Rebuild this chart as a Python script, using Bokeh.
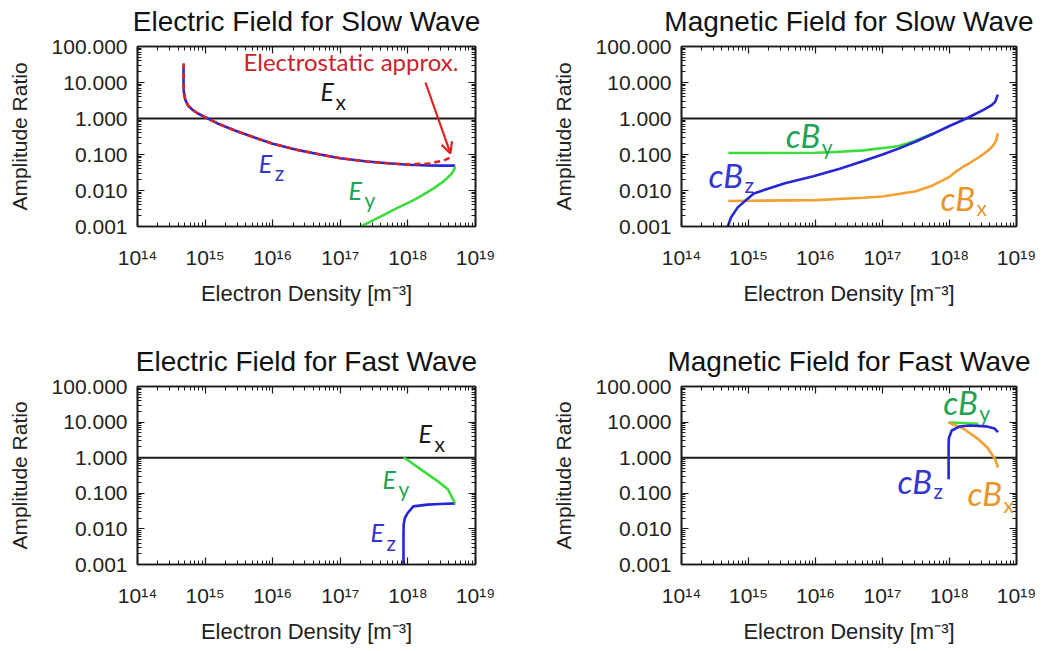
from bokeh.plotting import figure
from bokeh.models import (FixedTicker, LogAxis, CustomJSTickFormatter, Label, Arrow,
                          OpenHead, Range1d)
from bokeh.layouts import column, row
from bokeh.embed import file_html
from bokeh.resources import INLINE

# ---------------- data ----------------
x_ticks = [1e14, 1e15, 1e16, 1e17, 1e18, 1e19]
x_tick_labels = ["10¹⁴", "10¹⁵", "10¹⁶", "10¹⁷", "10¹⁸", "10¹⁹"]
y_ticks = [0.001, 0.01, 0.1, 1.0, 10.0, 100.0]
y_tick_labels = ["0.001", "0.010", "0.100", "1.000", "10.000", "100.000"]

titles = ["Electric Field for Slow Wave", "Magnetic Field for Slow Wave",
          "Electric Field for Fast Wave", "Magnetic Field for Fast Wave"]
x_label = "Electron Density [m⁻³]"
y_label = "Amplitude Ratio"

# reference (Ex = 1)
ex_n = [1e14, 1e19]
ex_amp = [1.0, 1.0]

# Electric field, slow wave
slow_ez_n = [4.8e14, 4.8e14, 4.85e14, 5.1e14, 5.6e14, 6.5e14, 7.7e14, 1.1e15, 1.6e15, 2.7e15,
             5.0e15, 1.0e16, 2.5e16, 5.0e16, 1.0e17, 2.5e17, 5.0e17, 1.0e18, 2.0e18, 3.5e18, 5.0e18]
slow_ez = [30, 10, 5.3, 3.3, 2.3, 1.75, 1.4, 1.0, 0.7, 0.47,
           0.31, 0.20, 0.13, 0.10, 0.079, 0.064, 0.057, 0.052, 0.050, 0.049, 0.049]
slow_es_n = [4.8e14, 4.8e14, 4.85e14, 5.1e14, 5.6e14, 6.5e14, 7.7e14, 1.1e15, 1.6e15, 2.7e15,
             5.0e15, 1.0e16, 2.5e16, 5.0e16, 1.0e17, 2.5e17, 5.0e17, 1.0e18, 2.0e18, 3.4e18, 4.7e18]
slow_es = [34, 10, 5.3, 3.3, 2.3, 1.75, 1.4, 1.0, 0.7, 0.47,
           0.31, 0.20, 0.13, 0.10, 0.079, 0.064, 0.057, 0.053, 0.056, 0.068, 0.09]
slow_ey_n = [2.0e17, 3.0e17, 4.4e17, 7.0e17, 1.1e18, 1.6e18, 2.4e18, 3.1e18, 3.8e18, 4.4e18, 4.8e18, 5.0e18]
slow_ey = [0.001, 0.00145, 0.0021, 0.0033, 0.0049, 0.0072, 0.0115, 0.016, 0.022, 0.029, 0.037, 0.047]

# Magnetic field, slow wave
slow_by_n = [5.0e14, 1.0e15, 1.0e16, 1.7e16, 5.2e16, 1.7e17, 2.9e17, 5.8e17]
slow_by = [0.11, 0.11, 0.112, 0.115, 0.13, 0.17, 0.23, 0.39]
slow_bx_n = [5.0e14, 1.0e15, 1.0e16, 5.2e16, 1.0e17, 3.16e17, 5.6e17, 1.0e18, 1.26e18, 1.58e18,
             2.0e18, 2.5e18, 3.16e18, 3.98e18, 4.5e18, 5.0e18, 5.25e18]
slow_bx = [0.0051, 0.0052, 0.0054, 0.0063, 0.0068, 0.0095, 0.0138, 0.024, 0.034, 0.045,
           0.058, 0.075, 0.10, 0.14, 0.18, 0.25, 0.39]
slow_bz_n = [4.9e14, 5.5e14, 6.9e14, 9.8e14, 1.2e15, 1.9e15, 3.5e15, 9.3e15, 2.3e16, 5.2e16,
             1.0e17, 1.78e17, 3.16e17, 5.6e17, 1.0e18, 1.78e18, 3.16e18, 4.2e18, 4.8e18, 5.25e18]
slow_bz = [0.001, 0.0018, 0.0034, 0.006, 0.0083, 0.011, 0.016, 0.025, 0.04, 0.066,
           0.10, 0.148, 0.23, 0.37, 0.62, 1.0, 1.7, 2.3, 2.9, 4.6]

# Electric field, fast wave
fast_ey_n = [8.6e17, 1.0e18, 1.55e18, 2.75e18, 3.9e18, 4.6e18, 5.0e18]
fast_ey = [1.0, 0.85, 0.47, 0.22, 0.13, 0.07, 0.052]
fast_ez_n = [8.6e17, 8.6e17, 8.65e17, 9.0e17, 9.8e17, 1.2e18, 1.95e18, 3.0e18, 5.0e18]
fast_ez = [0.001, 0.006, 0.013, 0.02, 0.027, 0.043, 0.048, 0.050, 0.052]

# Magnetic field, fast wave
fast_by_n = [9.7e17, 1.6e18, 2.7e18]
fast_by = [9.7, 9.4, 9.0]
fast_bx_n = [9.7e17, 1.6e18, 2.6e18, 3.7e18, 4.8e18, 5.3e18]
fast_bx = [9.7, 6.6, 3.5, 1.9, 0.9, 0.53]
fast_bz_n = [9.7e17, 9.7e17, 9.8e17, 1.08e18, 1.4e18, 2.0e18, 3.5e18, 4.7e18, 5.3e18]
fast_bz = [0.25, 2.3, 3.6, 5.8, 7.5, 8.0, 7.6, 6.6, 5.2]

# ---------------- styling ----------------
BLUE = "#2626d6"
GREEN = "#3ddc3d"
ORANGE = "#f2a033"
RED = "#dd2222"
BLACK = "#1a1a1a"
TXT_BLUE = "#3535cf"
TXT_GREEN = "#1fa352"
TXT_ORANGE = "#e8952a"
TXT_RED = "#cc2229"
AX_FONT = "Liberation Sans"
ANN_FONT = "Lato"

x_minor = [m * 10.0 ** e for e in range(14, 19) for m in range(2, 10)]
y_minor = [m * 10.0 ** e for e in range(-3, 2) for m in range(2, 10)]

fmt_code = """
for (let i = 0; i < ticks_ref.length; i++) {
  if (Math.abs(Math.log10(ticks_ref[i]) - Math.log10(tick)) < 1e-6) return labels[i];
}
return '';
"""


def style_axis(ax):
    ax.axis_line_color = BLACK
    ax.axis_line_width = 1.6
    ax.major_tick_in = 7
    ax.major_tick_out = 0
    ax.minor_tick_in = 4
    ax.minor_tick_out = 0
    ax.major_tick_line_color = BLACK
    ax.minor_tick_line_color = BLACK
    ax.major_tick_line_width = 1.2
    ax.minor_tick_line_width = 1.0
    ax.major_label_text_font = AX_FONT
    ax.major_label_text_font_size = "21px"
    ax.major_label_text_color = "#222222"
    ax.axis_label_text_font = AX_FONT
    ax.axis_label_text_font_size = "21px"
    ax.axis_label_text_font_style = "normal"
    ax.axis_label_text_color = "#222222"


def make_fig(title, frame_w, height, border_bottom, border_right):
    width = 137 + frame_w + border_right
    p = figure(width=width, height=height, x_axis_type="log", y_axis_type="log",
               x_range=Range1d(1e14, 1e19), y_range=Range1d(1e-3, 1e2),
               output_backend="svg", toolbar_location=None, title_location=None,
               min_border_left=137, min_border_right=border_right,
               min_border_top=46, min_border_bottom=border_bottom)
    p.grid.visible = False
    p.outline_line_color = BLACK
    p.outline_line_width = 1.6
    p.background_fill_color = "white"
    p.border_fill_color = "white"

    xa = p.xaxis[0]
    xa.ticker = FixedTicker(ticks=x_ticks, minor_ticks=x_minor)
    xa.formatter = CustomJSTickFormatter(args=dict(ticks_ref=x_ticks, labels=x_tick_labels),
                                         code=fmt_code)
    style_axis(xa)
    xa.major_label_standoff = 19
    xa.axis_label = x_label
    xa.axis_label_text_font_size = "22px"
    xa.axis_label_standoff = 9

    ya = p.yaxis[0]
    ya.ticker = FixedTicker(ticks=y_ticks, minor_ticks=y_minor)
    ya.formatter = CustomJSTickFormatter(args=dict(ticks_ref=y_ticks, labels=y_tick_labels),
                                         code=fmt_code)
    style_axis(ya)
    ya.major_label_standoff = 10
    ya.axis_label = y_label
    ya.axis_label_standoff = 18

    # top axis: inward ticks, and it carries the panel title as its label
    top = LogAxis(ticker=FixedTicker(ticks=x_ticks, minor_ticks=x_minor),
                  formatter=CustomJSTickFormatter(code="return '';"))
    style_axis(top)
    top.major_label_text_font_size = "1px"
    top.major_label_standoff = 0
    top.axis_label = title
    top.axis_label_text_font_size = "28px"
    top.axis_label_text_color = "#111111"
    top.axis_label_standoff = 10
    p.add_layout(top, "above")
    right = LogAxis(ticker=FixedTicker(ticks=y_ticks, minor_ticks=y_minor),
                    formatter=CustomJSTickFormatter(code="return '';"))
    style_axis(right)
    right.major_label_text_font_size = "1px"
    right.major_label_standoff = 0
    p.add_layout(right, "right")

    p.line(ex_n, ex_amp, line_color=BLACK, line_width=2)
    return p


def sym(p, x, y, main, sub, color, main_size, sub_size, dx, dy):
    p.add_layout(Label(x=x, y=y, y_offset=round(0.39 * main_size), text=main,
                       text_color=color, text_font=ANN_FONT,
                       text_font_style="italic", text_font_size=f"{main_size}px",
                       text_align="left", text_baseline="alphabetic"))
    p.add_layout(Label(x=x, y=y, x_offset=dx, y_offset=-dy + round(0.39 * sub_size),
                       text=sub, text_color=color,
                       text_font=ANN_FONT, text_font_style="normal",
                       text_font_size=f"{sub_size}px", text_align="left",
                       text_baseline="alphabetic"))


LW = 2.6
EF = 25
BF = 33

# Panel 1
p1 = make_fig(titles[0], 338, 340, 114, 69)
p1.line(slow_ez_n, slow_ez, line_color=BLUE, line_width=LW)
p1.line(slow_es_n, slow_es, line_color=RED, line_width=LW, line_dash="6 4")
p1.line(slow_ey_n, slow_ey, line_color=GREEN, line_width=LW)
p1.add_layout(Label(x=3.7e15, y=21.5, y_offset=round(0.39 * 24), text="Electrostatic approx.",
                    text_color=TXT_RED, text_font=ANN_FONT, text_font_size="24px",
                    text_align="left", text_baseline="alphabetic"))
p1.add_layout(Arrow(end=OpenHead(size=11, line_color=RED, line_width=2.2),
                    x_start=1.82e18, y_start=10, x_end=4.26e18, y_end=0.107,
                    line_color=RED, line_width=2.2))
sym(p1, 5.1e16, 3.16, "E", "x", BLACK, EF, 21, 15, 9)
sym(p1, 6.2e15, 0.0316, "E", "z", TXT_BLUE, EF, 21, 16, 8)
sym(p1, 1.32e17, 0.0053, "E", "y", TXT_GREEN, EF, 21, 16, 7)

# Panel 2
p2 = make_fig(titles[1], 335, 340, 114, 28)
p2.line(slow_by_n, slow_by, line_color=GREEN, line_width=LW)
p2.line(slow_bx_n, slow_bx, line_color=ORANGE, line_width=LW)
p2.line(slow_bz_n, slow_bz, line_color=BLUE, line_width=LW)
sym(p2, 3.6e15, 0.147, "cB", "y", TXT_GREEN, BF, 21, 36, 6)
sym(p2, 2.53e14, 0.0114, "cB", "z", TXT_BLUE, BF, 21, 36, 4)
sym(p2, 7.35e17, 0.00278, "cB", "x", TXT_ORANGE, BF, 21, 36, 5)

# Panel 3
p3 = make_fig(titles[2], 338, 306, 80, 69)
p3.line(fast_ez_n, fast_ez, line_color=BLUE, line_width=LW)
p3.line(fast_ey_n, fast_ey, line_color=GREEN, line_width=LW)
sym(p3, 1.44e18, 2.61, "E", "x", BLACK, EF, 21, 16, 9)
sym(p3, 4.2e17, 0.129, "E", "y", TXT_GREEN, EF, 21, 16, 7)
sym(p3, 2.8e17, 0.00435, "E", "z", TXT_BLUE, EF, 21, 16, 9)

# Panel 4
p4 = make_fig(titles[3], 335, 306, 80, 28)
p4.line(fast_by_n, fast_by, line_color=GREEN, line_width=LW)
p4.line(fast_bx_n, fast_bx, line_color=ORANGE, line_width=LW)
p4.line(fast_bz_n, fast_bz, line_color=BLUE, line_width=LW)
sym(p4, 8.1e17, 15.6, "cB", "y", TXT_GREEN, BF, 21, 36, 5)
sym(p4, 1.68e17, 0.094, "cB", "z", TXT_BLUE, BF, 21, 36, 4)
sym(p4, 1.86e18, 0.0435, "cB", "x", TXT_ORANGE, BF, 21, 36, 6)

layout = column(row(p1, p2), row(p3, p4))
open("out.html", "w", encoding="utf-8").write(file_html(layout, INLINE))
